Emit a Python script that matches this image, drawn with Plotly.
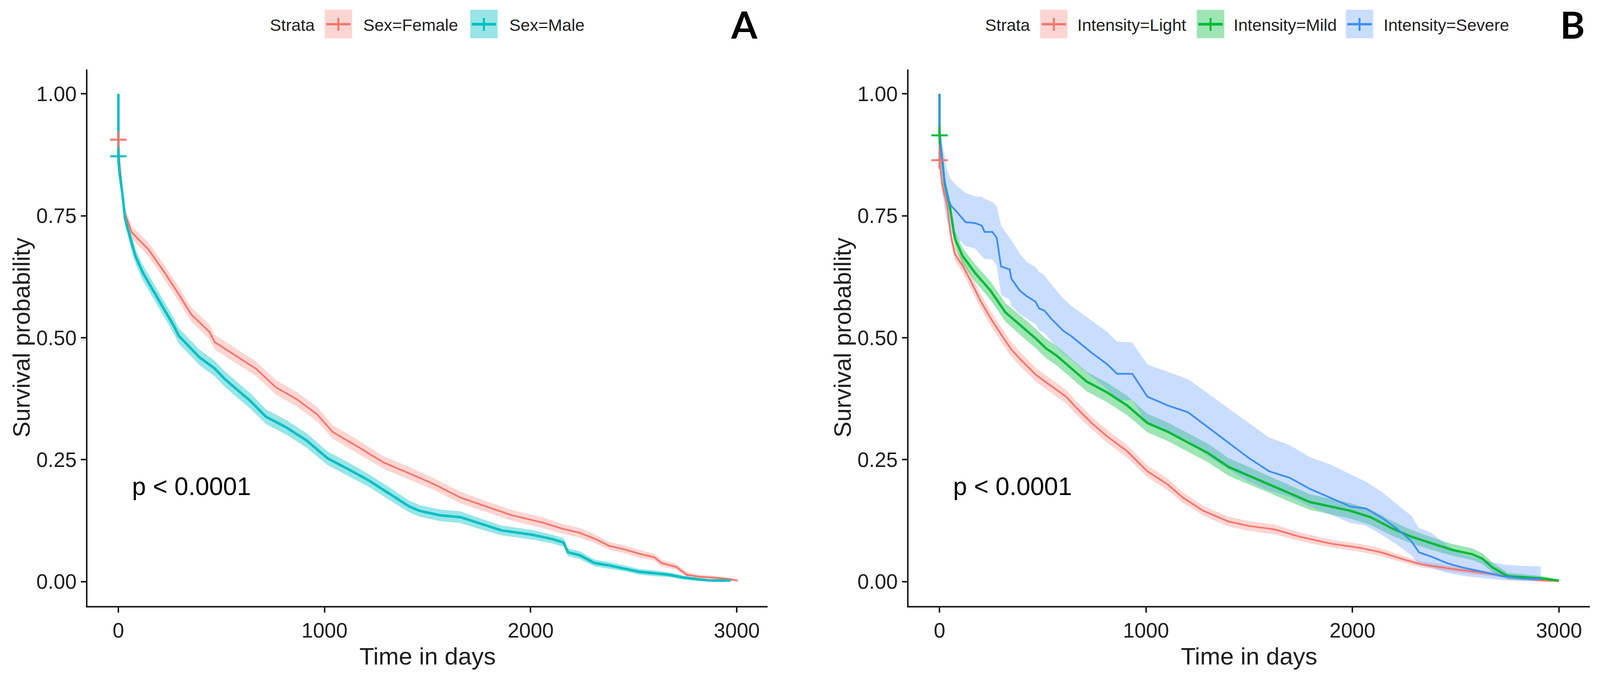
import plotly.graph_objects as go

# ---------------- data ----------------
# Panel A : Sex
t_female = [0, 0, 5, 20, 32, 65, 144, 219, 281, 355, 442, 467, 566, 666, 765, 865, 964, 1039, 1163, 1287,
            1411, 1535, 1660, 1784, 1908, 2057, 2157, 2238, 2310, 2382, 2455, 2527, 2599, 2635, 2707, 2757,
            2815, 2887, 2960, 3005]
s_female = [1.0, .906, .86, .794, .754, .716, .682, .637, .597, .547, .512, .491, .464, .437, .398, .374, .343,
            .307, .276, .244, .222, .199, .172, .154, .136, .121, .108, .100, .088, .073, .066, .057, .050, .038,
            .030, .014, .010, .008, .005, .002]
lo_female = [1.0, .897, .85, .783, .742, .703, .668, .622, .582, .532, .497, .476, .449, .422, .383, .359, .328,
             .293, .262, .231, .209, .187, .160, .143, .125, .110, .098, .090, .079, .065, .058, .049, .043, .031,
             .024, .009, .006, .004, .002, .000]
hi_female = [1.0, .915, .87, .805, .766, .729, .696, .652, .612, .562, .527, .506, .479, .452, .413, .389, .358,
             .321, .290, .257, .235, .211, .184, .165, .147, .132, .118, .110, .097, .081, .074, .065, .057, .045,
             .036, .019, .014, .012, .008, .004]

t_male = [0, 0, 5, 20, 32, 57, 82, 119, 169, 219, 268, 293, 343, 393, 467, 517, 591, 641, 716, 815, 914, 1014,
          1113, 1212, 1312, 1411, 1461, 1560, 1660, 1759, 1858, 2007, 2107, 2160, 2181, 2238, 2310, 2382, 2455,
          2527, 2599, 2671, 2743, 2815, 2870, 2970]
s_male = [1.0, .872, .84, .794, .745, .704, .668, .633, .597, .561, .525, .504, .482, .460, .437, .415, .388,
          .370, .338, .316, .289, .253, .231, .208, .181, .154, .145, .136, .132, .118, .105, .096, .087, .080,
          .060, .054, .038, .033, .027, .020, .017, .014, .008, .004, .002, .002]
lo_male = [1.0, .862, .83, .782, .731, .689, .653, .617, .581, .545, .509, .488, .466, .444, .421, .399, .372,
           .354, .323, .301, .274, .239, .217, .195, .168, .142, .133, .124, .120, .107, .095, .086, .078, .071,
           .052, .046, .031, .026, .021, .014, .011, .009, .004, .001, .000, .000]
hi_male = [1.0, .882, .85, .806, .759, .719, .683, .649, .613, .577, .541, .520, .498, .476, .453, .431, .404,
           .386, .353, .331, .304, .267, .245, .221, .194, .166, .157, .148, .144, .129, .115, .106, .096, .089,
           .068, .062, .045, .040, .033, .026, .023, .019, .012, .007, .004, .004]

# Panel B : Intensity
t_light = [0, 0, 12, 37, 54, 74, 111, 147, 197, 246, 295, 344, 393, 467, 541, 614, 663, 737, 811, 909, 1007,
           1106, 1179, 1278, 1400, 1499, 1622, 1744, 1892, 2039, 2138, 2236, 2334, 2482, 2629, 2776, 2924, 3000]
s_light = [1.0, .863, .816, .772, .712, .672, .648, .620, .577, .541, .509, .478, .455, .424, .401, .379, .356,
           .325, .298, .267, .226, .199, .172, .145, .123, .114, .107, .092, .078, .069, .060, .047, .035, .026,
           .018, .009, .002, .001]
lo_light = [1.0, .853, .804, .759, .698, .658, .634, .605, .562, .526, .494, .463, .440, .410, .387, .365, .342,
            .312, .285, .254, .214, .187, .161, .135, .113, .104, .097, .083, .070, .061, .052, .040, .029, .020,
            .013, .005, .000, .000]
hi_light = [1.0, .873, .828, .785, .726, .686, .662, .635, .592, .556, .524, .493, .470, .438, .415, .393, .370,
            .338, .311, .280, .238, .211, .183, .155, .133, .124, .117, .101, .086, .077, .068, .054, .041, .032,
            .023, .013, .004, .002]

t_mild = [0, 0, 25, 49, 74, 111, 172, 246, 319, 393, 467, 516, 565, 639, 713, 811, 909, 1007, 1106, 1204, 1302,
          1400, 1499, 1597, 1695, 1794, 1892, 1990, 2088, 2187, 2285, 2383, 2482, 2580, 2629, 2678, 2752, 2826,
          2924, 3000]
s_mild = [1.0, .915, .816, .772, .704, .668, .633, .597, .552, .525, .498, .478, .464, .437, .410, .388, .361,
          .325, .307, .285, .263, .235, .217, .199, .181, .163, .154, .145, .132, .110, .092, .078, .065, .056,
          .047, .029, .011, .009, .006, .002]
lo_mild = [1.0, .905, .802, .757, .688, .651, .615, .578, .533, .505, .478, .458, .444, .417, .390, .368, .341,
           .306, .288, .266, .244, .217, .199, .182, .164, .147, .138, .129, .116, .095, .078, .065, .053, .044,
           .036, .019, .004, .003, .001, .000]
hi_mild = [1.0, .925, .830, .787, .720, .685, .651, .616, .571, .545, .518, .498, .484, .457, .430, .408, .381,
           .344, .326, .304, .282, .253, .235, .216, .198, .179, .170, .161, .148, .125, .106, .091, .077, .068,
           .058, .039, .018, .015, .011, .004]

t_severe = [0, 0, 12, 25, 38, 55, 88, 126, 172, 205, 218, 256, 277, 298, 340, 348, 390, 423, 465, 482, 507,
            541, 600, 639, 737, 811, 860, 934, 1007, 1106, 1204, 1302, 1400, 1499, 1597, 1695, 1794, 1892, 1990,
            2064, 2138, 2211, 2285, 2322, 2383, 2457, 2531, 2629, 2727, 2826, 2912]
s_severe = [1.0, .93, .86, .82, .79, .771, .756, .737, .735, .730, .717, .717, .705, .646, .640, .621, .596,
            .585, .574, .560, .556, .539, .514, .503, .469, .446, .426, .426, .379, .361, .347, .316, .285, .253,
            .226, .213, .190, .172, .154, .150, .132, .110, .083, .060, .051, .038, .029, .020, .011, .006, .005]
lo_severe = [1.0, .89, .80, .765, .735, .715, .703, .688, .683, .667, .662, .66, .648, .588, .578, .565, .548,
             .539, .528, .515, .51, .493, .468, .455, .42, .395, .372, .372, .322, .305, .29, .256, .23, .205,
             .186, .174, .154, .138, .12, .115, .097, .077, .054, .035, .028, .018, .012, .007, .003, .001, .000]
hi_severe = [1.0, .97, .90, .87, .842, .825, .81, .797, .79, .789, .785, .778, .77, .73, .705, .70, .672, .655,
             .645, .635, .628, .61, .58, .565, .535, .512, .492, .49, .445, .43, .415, .385, .355, .325, .295,
             .28, .255, .24, .22, .205, .185, .16, .135, .11, .1, .075, .056, .045, .035, .032, .031]

# censoring marks visible at time 0
censor_A_t = [0, 0]
censor_A_s = [0.906, 0.872]
censor_B_t = [0, 0]
censor_B_s = [0.864, 0.915]

strata_A = ["Sex=Female", "Sex=Male"]
strata_B = ["Intensity=Light", "Intensity=Mild", "Intensity=Severe"]
x_ticks = [0, 1000, 2000, 3000]
y_ticks = [0, 0.25, 0.5, 0.75, 1.0]
y_ticktext = ["0.00", "0.25", "0.50", "0.75", "1.00"]
pval_text = "p < 0.0001"
panel_labels = ["A", "B"]

for a, b in [(t_female, s_female), (t_female, lo_female), (t_female, hi_female),
             (t_male, s_male), (t_male, lo_male), (t_male, hi_male),
             (t_light, s_light), (t_light, lo_light), (t_light, hi_light),
             (t_mild, s_mild), (t_mild, lo_mild), (t_mild, hi_mild),
             (t_severe, s_severe), (t_severe, lo_severe), (t_severe, hi_severe)]:
    assert len(a) == len(b)

# ---------------- style ----------------
W, H = 4135, 1734
FONT = "Liberation Sans, Arial, sans-serif"
INK = "#1e1e1e"

RED, CYAN, GREEN, BLUE = "#F8766D", "#00BFC4", "#00BA38", "#3D8EFA"
RED_F = "rgba(248,118,109,0.30)"
CYAN_F = "rgba(0,191,196,0.40)"
GREEN_F = "rgba(0,186,56,0.38)"
BLUE_F = "rgba(97,156,255,0.34)"


def px(x):
    return x / W


def py(y):
    return 1 - y / H


fig = go.Figure()


def band(t, lo, hi, color, xa, ya):
    fig.add_trace(go.Scatter(x=list(t) + list(t)[::-1], y=list(hi) + list(lo)[::-1],
                             fill="toself", fillcolor=color, mode="lines",
                             line=dict(width=0, color=color), hoverinfo="skip",
                             showlegend=False, xaxis=xa, yaxis=ya))


def curve(t, s, color, width, name, xa, ya):
    fig.add_trace(go.Scatter(x=t, y=s, mode="lines", line=dict(color=color, width=width),
                             name=name, showlegend=False, xaxis=xa, yaxis=ya))


def censor(t, s, colors, xa, ya):
    fig.add_trace(go.Scatter(x=t, y=s, mode="markers",
                             marker=dict(symbol="line-ew", size=30,
                                         line=dict(color=colors, width=5)),
                             showlegend=False, hoverinfo="skip", xaxis=xa, yaxis=ya))
    fig.add_trace(go.Scatter(x=t, y=s, mode="markers",
                             marker=dict(symbol="line-ns", size=32,
                                         line=dict(color=colors, width=5)),
                             showlegend=False, hoverinfo="skip", xaxis=xa, yaxis=ya))


# Panel A
band(t_female, lo_female, hi_female, RED_F, "x", "y")
band(t_male, lo_male, hi_male, CYAN_F, "x", "y")
curve(t_female, s_female, RED, 4.5, strata_A[0], "x", "y")
curve(t_male, s_male, CYAN, 6.5, strata_A[1], "x", "y")
censor(censor_A_t, censor_A_s, [RED, CYAN], "x", "y")

# Panel B
band(t_light, lo_light, hi_light, RED_F, "x2", "y2")
band(t_mild, lo_mild, hi_mild, GREEN_F, "x2", "y2")
band(t_severe, lo_severe, hi_severe, BLUE_F, "x2", "y2")
curve(t_light, s_light, RED, 4.5, strata_B[0], "x2", "y2")
curve(t_mild, s_mild, GREEN, 6, strata_B[1], "x2", "y2")
curve(t_severe, s_severe, BLUE, 4.5, strata_B[2], "x2", "y2")
censor(censor_B_t, censor_B_s, [RED, GREEN], "x2", "y2")

axis_common = dict(showline=True, linecolor=INK, linewidth=4, ticks="outside", ticklen=13,
                   tickwidth=4, tickcolor=INK, showgrid=False, zeroline=False,
                   tickfont=dict(family=FONT, size=53, color=INK), automargin=False)

ydom = [py(1552), py(178)]
fig.update_layout(
    autosize=True, margin=dict(l=0, r=0, t=0, b=0, autoexpand=False),
    paper_bgcolor="white", plot_bgcolor="white", showlegend=False,
    xaxis=dict(domain=[px(226), px(1984)], range=[-150, 3150], tickvals=x_ticks, anchor="y", **axis_common),
    yaxis=dict(domain=ydom, range=[-0.05, 1.05], tickvals=y_ticks, ticktext=y_ticktext, anchor="x",
               **axis_common),
    xaxis2=dict(domain=[px(2348), px(4109)], range=[-150, 3150], tickvals=x_ticks, anchor="y2",
                **axis_common),
    yaxis2=dict(domain=ydom, range=[-0.05, 1.05], tickvals=y_ticks, ticktext=y_ticktext, anchor="x2",
                **axis_common),
)

ann = []
shapes = []
# axis titles
for xc in (1105, 3228):
    ann.append(dict(text="Time in days", x=px(xc), y=py(1680), xref="paper", yref="paper",
                    xanchor="center", yanchor="middle", showarrow=False,
                    font=dict(family=FONT, size=62, color=INK)))
for xc in (56, 2178):
    ann.append(dict(text="Survival probability", x=px(xc), y=py(864), xref="paper", yref="paper",
                    xanchor="center", yanchor="middle", textangle=-90, showarrow=False,
                    font=dict(family=FONT, size=61, color=INK)))
# p-values
for xr, yr in (("x", "y"), ("x2", "y2")):
    ann.append(dict(text=pval_text, x=62, y=0.195, xref=xr, yref=yr, xanchor="left", yanchor="middle",
                    showarrow=False, font=dict(family=FONT, size=64, color="black")))
# panel letters
for lab, xc in zip(panel_labels, (1924, 4064)):
    ann.append(dict(text="<b>" + lab + "</b>", x=px(xc), y=py(61), xref="paper", yref="paper",
                    xanchor="center", yanchor="middle", showarrow=False,
                    font=dict(family="Lato, Liberation Sans, sans-serif", size=96, color="black")))

# manual legends (ggplot-style keys)
LEG_FONT = dict(family=FONT, size=43, color=INK)
LEG_Y = 62


def legend_title(x_left):
    ann.append(dict(text="Strata", x=px(x_left), y=py(LEG_Y + 2), xref="paper", yref="paper",
                    xanchor="left", yanchor="middle", showarrow=False, font=LEG_FONT))


def legend_item(box_left, text_left, label, line_color, fill_color, lw):
    x0, x1 = box_left, box_left + 71
    shapes.append(dict(type="rect", xref="paper", yref="paper", x0=px(x0), x1=px(x1),
                       y0=py(LEG_Y + 36), y1=py(LEG_Y - 37), fillcolor=fill_color, line=dict(width=0)))
    shapes.append(dict(type="line", xref="paper", yref="paper", x0=px(x0 + 4), x1=px(x1 - 4),
                       y0=py(LEG_Y), y1=py(LEG_Y), line=dict(color=line_color, width=lw)))
    xc = (x0 + x1) / 2
    shapes.append(dict(type="line", xref="paper", yref="paper", x0=px(xc), x1=px(xc),
                       y0=py(LEG_Y - 16), y1=py(LEG_Y + 17), line=dict(color=line_color, width=5)))
    ann.append(dict(text=label, x=px(text_left), y=py(LEG_Y + 2), xref="paper", yref="paper",
                    xanchor="left", yanchor="middle", showarrow=False, font=LEG_FONT))


legend_title(696)
legend_item(839, 937, strata_A[0], RED, RED_F, 6)
legend_item(1215, 1314, strata_A[1], CYAN, CYAN_F, 7)

legend_title(2544)
legend_item(2688, 2782, strata_B[0], RED, RED_F, 6)
legend_item(3093, 3186, strata_B[1], GREEN, GREEN_F, 7)
legend_item(3478, 3574, strata_B[2], BLUE, BLUE_F, 6)

fig.update_layout(annotations=ann, shapes=shapes)

post = ("document.body.style.margin='0';document.body.style.overflow='hidden';"
        "var gd=document.getElementById('{plot_id}');Plotly.Plots.resize(gd);")
fig.write_html("out.html", default_width="100vw", default_height="100vh", post_script=post,
               config={"responsive": True, "displayModeBar": False})
